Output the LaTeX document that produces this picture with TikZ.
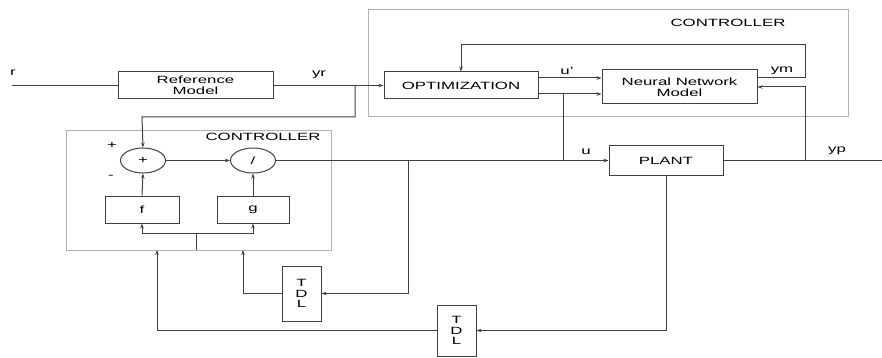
\documentclass[tikz,border=0pt]{standalone}
\usepackage{fontspec}
\setmainfont{Liberation Sans}[FakeStretch=1.6]
\usetikzlibrary{arrows.meta, positioning, shapes.geometric}

\begin{document}
\begin{tikzpicture}[
  x=1pt, y=-1pt,
  font=\fontsize{10.5}{10.5}\selectfont,
  line width=1pt, draw=black!75,
  blk/.style={draw=black!75, rectangle, inner sep=0pt, align=center},
  op/.style={draw=black!75, ellipse, minimum width=45pt, minimum height=25pt, inner sep=0pt},
  frame/.style={draw=black!30, line width=1pt},
  lbl/.style={inner sep=0pt},
  sig/.style={-{Stealth[length=5pt, width=3.5pt]}, draw=black!75},
  wire/.style={draw=black!75}
]
\useasboundingbox (0,0) rectangle (882,358);

% controller frames
\draw[frame] (368,10) rectangle (848,117);
\draw[frame] (66,131) rectangle (331,250);
\node[lbl] (ctrltop) at (728,23) {CONTROLLER};
\node[lbl] (ctrlbot) at (263,137) {CONTROLLER};

% blocks
\node[blk, minimum width=155pt, minimum height=27pt] (refm) at (195.5,85.5) {Reference\\Model};
\node[blk, minimum width=154pt, minimum height=27pt] (opt) at (461,85.5) {OPTIMIZATION};
\node[blk, minimum width=155pt, minimum height=34pt] (nn) at (679.5,87) {Neural Network\\Model};
\node[blk, minimum width=114pt, minimum height=29pt] (plant) at (666,160.5) {PLANT};
\node[op] (sum) at (143,160.5) {+};
\node[op] (div) at (253,160.5) {/};
\node[blk, minimum width=74pt, minimum height=27pt] (f) at (142,209.5) {f};
\node[blk, minimum width=72pt, minimum height=27pt] (g) at (253,209.5) {g};
\node[blk, minimum width=39pt, minimum height=55pt] (tdla) at (301.5,293.5) {T\\D\\L};
\node[blk, minimum width=39pt, minimum height=51pt] (tdlb) at (456.5,330.5) {T\\D\\L};

% signal labels
\node[lbl] (lr) at (13,73) {r};
\node[lbl] (lyr) at (319,75) {yr};
\node[lbl] (lus) at (567,71) {u'};
\node[lbl] (lym) at (782,71) {ym};
\node[lbl] (lu) at (586,152) {u};
\node[lbl] (lyp) at (837,151) {yp};
\node[lbl] (lplus) at (112,145) {+};
\node[lbl] (lminus) at (111,177) {-};

% coordinates
\coordinate (rin) at (12,85.5);
\coordinate (yout) at (882,160.5);
\coordinate (jyr) at (355,85.5);
\coordinate (ju) at (408,160.5);
\coordinate (jopt) at (563,160.5);
\coordinate (jyp) at (805,160.5);
\coordinate (jfg) at (196,233);
\coordinate (fb1) at (243,250);
\coordinate (fb2) at (157,250);

% forward path
\draw[wire] (rin) -- (refm.west);
\draw[sig] (refm.east) -- (opt.west);
\draw[sig] (jyr) |- (142,117) -- (sum.north);
\draw[sig] (opt.east |- 0,78) -- (nn.west |- 0,78);
\draw[sig] (opt.east |- 0,94) -- (nn.west |- 0,94);
\draw[wire] (jopt) -- (563,94);
\draw[sig] (nn.east |- 0,78) -- (805,78) |- (461,45) -- (opt.north);
\draw[sig] (div.east) -- (plant.west);
\draw[wire] (plant.east) -- (yout);
\draw[sig] (jyp) |- (nn.east |- 0,87);

% inner controller
\draw[sig] (sum.east) -- (div.west);
\draw[sig] (f.north) -- (sum.south);
\draw[sig] (g.north) -- (div.south);
\draw[sig] (jfg) -| (f.south);
\draw[sig] (jfg) -| (g.south);
\draw[wire] (jfg) -- (196,250);

% delay lines
\draw[sig] (ju) |- (tdla.east);
\draw[sig] (tdla.west) -| (fb1);
\draw[sig] (plant.south) |- (tdlb.east);
\draw[sig] (tdlb.west) -| (fb2);
\end{tikzpicture}
\end{document}
